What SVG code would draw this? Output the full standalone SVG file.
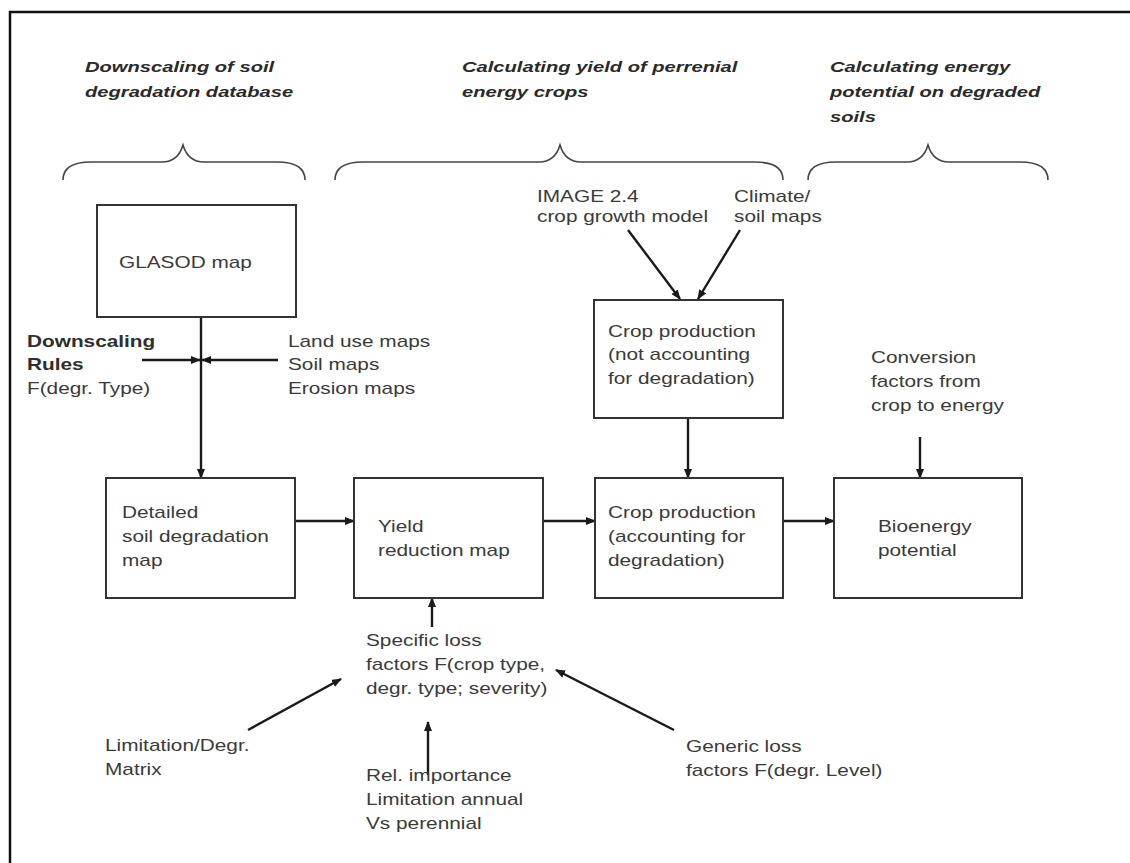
<svg xmlns="http://www.w3.org/2000/svg" width="1130" height="863" viewBox="0 0 1130 863">
  <defs>
    <marker id="head" markerUnits="userSpaceOnUse" markerWidth="10" markerHeight="8" refX="9" refY="4" orient="auto">
      <path d="M0,0 L10,4 L0,8 Z" fill="#1a1a1a"/>
    </marker>
    <style>
      .box { fill: #ffffff; stroke: #333333; stroke-width: 2; }
      .lbl { font-family: "Liberation Sans", Arial, sans-serif; font-size: 16px; fill: #3a3a3a; }
      .bold { font-weight: bold; fill: #2e2e2e; }
      .head { font-family: "Liberation Sans", Arial, sans-serif; font-size: 15.5px; font-weight: bold; font-style: italic; fill: #2a2a2a; }
      .brace { fill: none; stroke: #444444; stroke-width: 1.6; }
      .arrow { fill: none; stroke: #1a1a1a; stroke-width: 2.4; marker-end: url(#head); }
      .frame { fill: none; stroke: #111111; stroke-width: 2.5; }
    </style>
  </defs>

  <rect width="1130" height="863" fill="#ffffff"/>
  <path class="frame" d="M10,863 V12 H1130"/>

  <!-- section headings -->
  <g id="heading-downscaling">
    <text class="head" transform="translate(85,72) scale(1.3,1)">Downscaling of soil<tspan x="0" dy="25.5">degradation database</tspan></text>
    <path class="brace" d="M63,180 Q63,162 91,162 L162,162 Q178,162 183,145 Q188,162 204,162 L277,162 Q305,162 305,180"/>
  </g>
  <g id="heading-yield">
    <text class="head" transform="translate(462,72) scale(1.3,1)">Calculating yield of perrenial<tspan x="0" dy="25.5">energy crops</tspan></text>
    <path class="brace" d="M335,180 Q335,162 363,162 L539,162 Q555,162 560,145 Q565,162 581,162 L755,162 Q783,162 783,180"/>
  </g>
  <g id="heading-energy">
    <text class="head" transform="translate(830,72) scale(1.3,1)">Calculating energy<tspan x="0" dy="25">potential on degraded</tspan><tspan x="0" dy="25">soils</tspan></text>
    <path class="brace" d="M808,180 Q808,162 836,162 L907,162 Q923,162 928,145 Q933,162 949,162 L1020,162 Q1048,162 1048,180"/>
  </g>

  <!-- connectors -->
  <g id="connectors">
    <line class="arrow" x1="201" y1="317" x2="201" y2="478"/>
    <line class="arrow" x1="142" y1="360" x2="200" y2="360"/>
    <line class="arrow" x1="278" y1="360" x2="202" y2="360"/>
    <line class="arrow" x1="628" y1="230" x2="680" y2="299"/>
    <line class="arrow" x1="740" y1="230" x2="698" y2="299"/>
    <line class="arrow" x1="688" y1="418" x2="688" y2="478"/>
    <line class="arrow" x1="920" y1="437" x2="920" y2="478"/>
    <line class="arrow" x1="295" y1="521" x2="354" y2="521"/>
    <line class="arrow" x1="543" y1="521" x2="595" y2="521"/>
    <line class="arrow" x1="783" y1="521" x2="834" y2="521"/>
    <line class="arrow" x1="432" y1="627" x2="432" y2="598"/>
    <line class="arrow" x1="428" y1="775" x2="428" y2="722"/>
    <line class="arrow" x1="248" y1="730" x2="341" y2="679"/>
    <line class="arrow" x1="674" y1="730" x2="556" y2="670"/>
  </g>

  <!-- boxes -->
  <g id="glasod">
    <rect class="box" x="97" y="205" width="199" height="112"/>
    <text class="lbl" transform="translate(119,268) scale(1.3,1)">GLASOD map</text>
  </g>
  <g id="crop-production-raw">
    <rect class="box" x="594" y="300" width="189" height="118"/>
    <text class="lbl" transform="translate(608,337) scale(1.3,1)">Crop production<tspan x="0" dy="23.5">(not accounting</tspan><tspan x="0" dy="23.5">for degradation)</tspan></text>
  </g>
  <g id="detailed-map">
    <rect class="box" x="106" y="478" width="189" height="120"/>
    <text class="lbl" transform="translate(122,518) scale(1.3,1)">Detailed<tspan x="0" dy="24">soil degradation</tspan><tspan x="0" dy="24">map</tspan></text>
  </g>
  <g id="yield-reduction">
    <rect class="box" x="354" y="478" width="189" height="120"/>
    <text class="lbl" transform="translate(378,532) scale(1.3,1)">Yield<tspan x="0" dy="24">reduction map</tspan></text>
  </g>
  <g id="crop-production">
    <rect class="box" x="595" y="478" width="188" height="120"/>
    <text class="lbl" transform="translate(608,518) scale(1.3,1)">Crop production<tspan x="0" dy="24">(accounting for</tspan><tspan x="0" dy="24">degradation)</tspan></text>
  </g>
  <g id="bioenergy">
    <rect class="box" x="834" y="478" width="188" height="120"/>
    <text class="lbl" transform="translate(878,532) scale(1.3,1)">Bioenergy<tspan x="0" dy="24">potential</tspan></text>
  </g>

  <!-- input labels -->
  <g id="downscaling-rules">
    <text class="lbl" transform="translate(27,347) scale(1.3,1)"><tspan class="bold">Downscaling</tspan><tspan class="bold" x="0" dy="23.5">Rules</tspan><tspan x="0" dy="23.5">F(degr. Type)</tspan></text>
  </g>
  <g id="maps">
    <text class="lbl" transform="translate(288,347) scale(1.3,1)">Land use maps<tspan x="0" dy="23.5">Soil maps</tspan><tspan x="0" dy="23.5">Erosion maps</tspan></text>
  </g>
  <g id="image-model">
    <text class="lbl" transform="translate(537,202) scale(1.3,1)">IMAGE 2.4<tspan x="0" dy="20">crop growth model</tspan></text>
  </g>
  <g id="climate-soil">
    <text class="lbl" transform="translate(734,202) scale(1.3,1)">Climate/<tspan x="0" dy="20">soil maps</tspan></text>
  </g>
  <g id="conversion">
    <text class="lbl" transform="translate(871,363) scale(1.3,1)">Conversion<tspan x="0" dy="24">factors from</tspan><tspan x="0" dy="24">crop to energy</tspan></text>
  </g>
  <g id="specific-loss">
    <text class="lbl" transform="translate(366,646) scale(1.3,1)">Specific loss<tspan x="0" dy="24">factors F(crop type,</tspan><tspan x="0" dy="24">degr. type; severity)</tspan></text>
  </g>
  <g id="limitation-matrix">
    <text class="lbl" transform="translate(105,751) scale(1.3,1)">Limitation/Degr.<tspan x="0" dy="24">Matrix</tspan></text>
  </g>
  <g id="generic-loss">
    <text class="lbl" transform="translate(686,752) scale(1.3,1)">Generic loss<tspan x="0" dy="24">factors F(degr. Level)</tspan></text>
  </g>
  <g id="relative-importance">
    <text class="lbl" transform="translate(366,781) scale(1.3,1)">Rel. importance<tspan x="0" dy="24">Limitation annual</tspan><tspan x="0" dy="24">Vs perennial</tspan></text>
  </g>
</svg>
